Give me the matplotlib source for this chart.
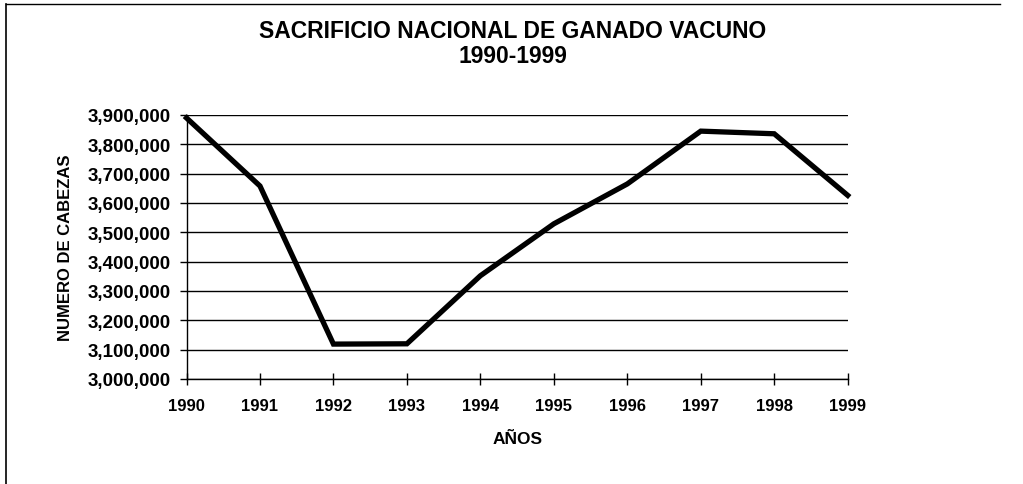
import matplotlib
matplotlib.use("Agg")
import matplotlib.pyplot as plt
from matplotlib.ticker import FuncFormatter, MultipleLocator

years = [1990, 1991, 1992, 1993, 1994, 1995, 1996, 1997, 1998, 1999]
cabezas = [3890000, 3658000, 3119000, 3120000, 3352000, 3529000, 3665000, 3845000, 3836000, 3626000]

title = "SACRIFICIO NACIONAL DE GANADO VACUNO\n1990-1999"
xlabel = "AÑOS"
ylabel = "NUMERO DE CABEZAS"

plt.rcParams['font.family'] = ['Liberation Sans', 'DejaVu Sans']

W, H = 1023, 485
fig = plt.figure(figsize=(W/100, H/100), dpi=100)
ax = fig.add_axes([186.5/W, 1-380/H, (847.7-186.5)/W, (380-116)/H])

ax.plot(years, cabezas, color='black', lw=3.8, solid_joinstyle='miter', zorder=3, clip_on=False)
ax.set_xlim(1990, 1999)
ax.set_ylim(3000000, 3900000)
ax.yaxis.set_major_locator(MultipleLocator(100000))
ax.set_xticks(years)
ax.yaxis.set_major_formatter(FuncFormatter(lambda v, p: f"{int(round(v)):,}"))
ax.grid(axis='y', color='black', lw=1.0)
for s in ['top', 'right']:
    ax.spines[s].set_visible(False)
ax.spines['left'].set_linewidth(1.0)
ax.spines['bottom'].set_linewidth(1.0)
ax.tick_params(axis='y', direction='out', length=5, width=1, labelsize=13.5, pad=6)
ax.tick_params(axis='x', direction='inout', length=8, width=1, labelsize=12, pad=10)
for lab in ax.get_xticklabels() + ax.get_yticklabels():
    lab.set_fontweight('bold')

ax.set_xlabel(xlabel, fontsize=12.5, fontweight='bold', labelpad=13)
ax.set_ylabel(ylabel, fontsize=12, fontweight='bold', labelpad=11)
fig.text(513/W, 1-44/H, title, ha='center', va='center', fontsize=16.5, fontweight='bold', linespacing=1.1)

# outer frame (left and top)
fig.add_artist(plt.Line2D([6/W, 6/W], [0, 1-5/H], color='black', lw=1.2))
fig.add_artist(plt.Line2D([6/W, 1000/W], [1-5/H, 1-5/H], color='black', lw=1.0))

fig.savefig("out.png", dpi=100)
